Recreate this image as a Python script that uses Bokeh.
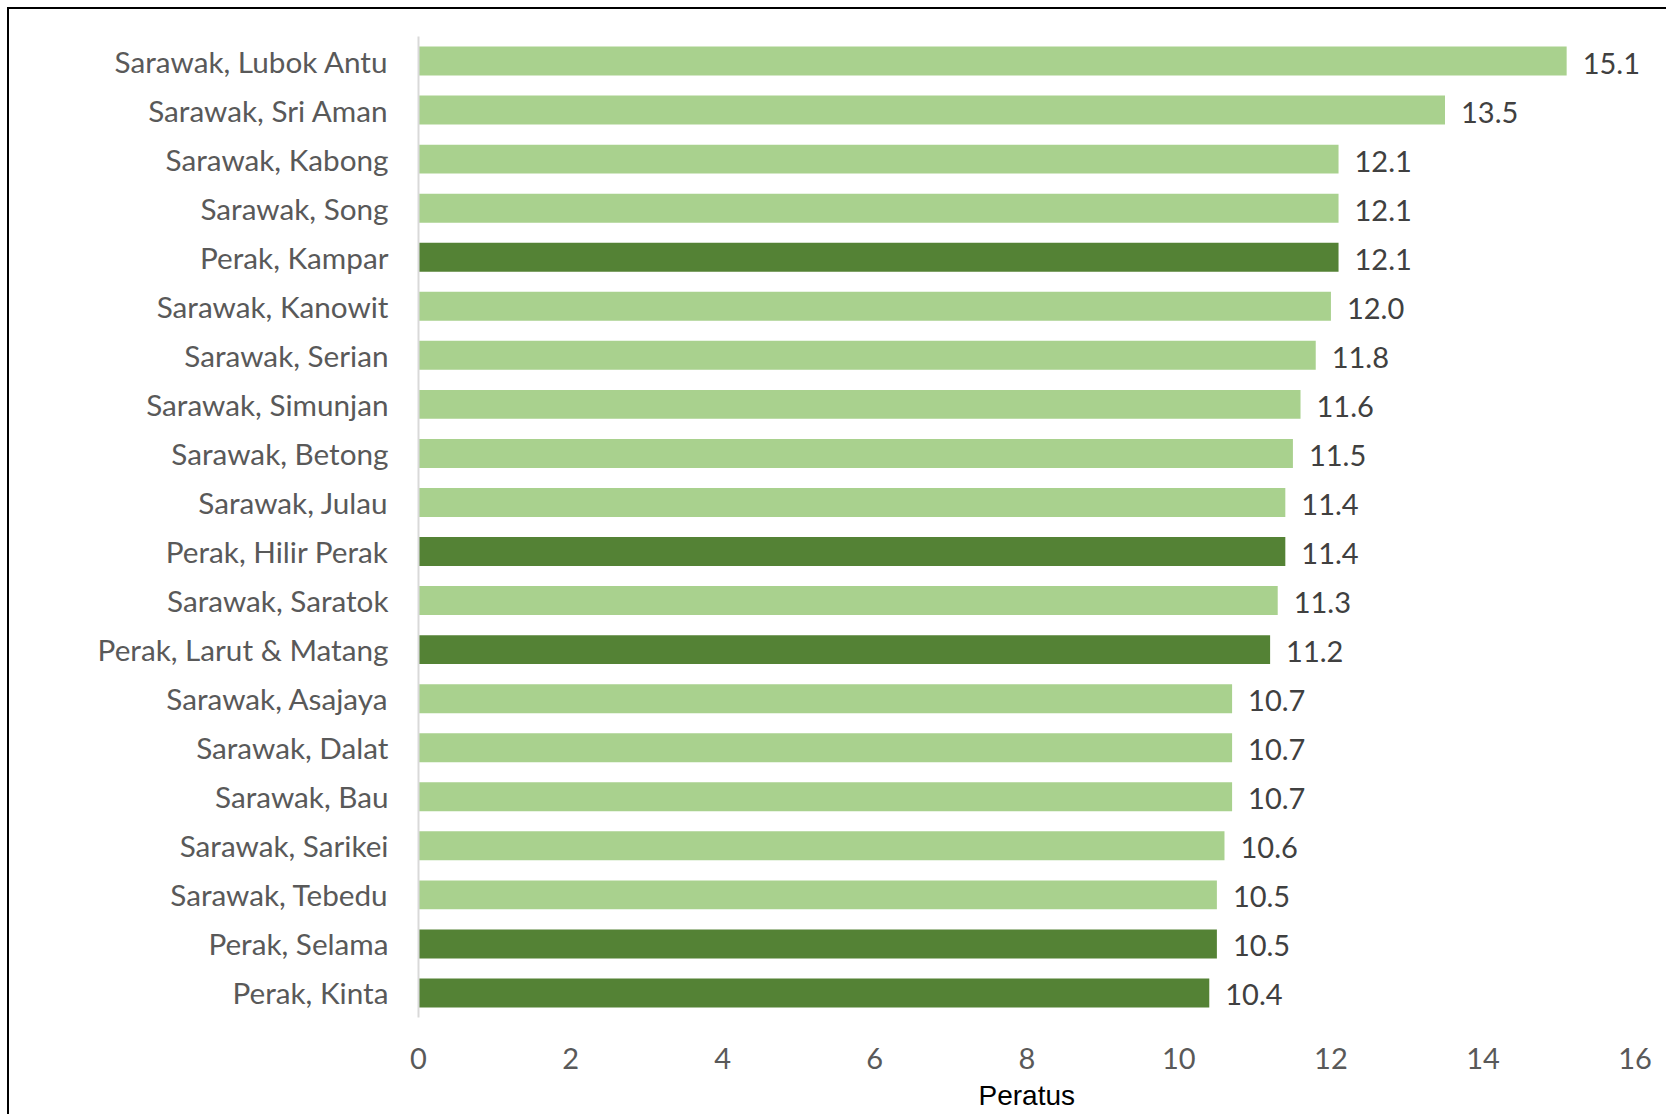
from bokeh.plotting import figure
from bokeh.models import Range1d, FixedTicker, ColumnDataSource, Title
from bokeh.core.properties import value
from bokeh.embed import file_html
from bokeh.resources import INLINE

categories = [
    "Sarawak, Lubok Antu", "Sarawak, Sri Aman", "Sarawak, Kabong", "Sarawak, Song",
    "Perak, Kampar", "Sarawak, Kanowit", "Sarawak, Serian", "Sarawak, Simunjan",
    "Sarawak, Betong", "Sarawak, Julau", "Perak, Hilir Perak", "Sarawak, Saratok",
    "Perak, Larut & Matang", "Sarawak, Asajaya", "Sarawak, Dalat", "Sarawak, Bau",
    "Sarawak, Sarikei", "Sarawak, Tebedu", "Perak, Selama", "Perak, Kinta",
]
values = [15.1, 13.5, 12.1, 12.1, 12.1, 12.0, 11.8, 11.6, 11.5, 11.4,
          11.4, 11.3, 11.2, 10.7, 10.7, 10.7, 10.6, 10.5, 10.5, 10.4]
x_ticks = [0, 2, 4, 6, 8, 10, 12, 14, 16]
x_label = "Peratus"

LIGHT = "#A9D18E"
DARK = "#548235"
colors = [DARK if c.startswith("Perak") else LIGHT for c in categories]
labels = [f"{v:.1f}" for v in values]

src = ColumnDataSource(dict(cat=categories, val=values, color=colors, lab=labels))

X_END = 16.4
W, H = 1659, 1107
FL, FT, FH = 409, 27, 981
FW = round(1217 * X_END / 16)

p = figure(width=W, height=H, y_range=categories[::-1], x_range=Range1d(0, X_END),
           output_backend="svg", toolbar_location=None,
           min_border_left=FL, min_border_right=W - FL - FW,
           min_border_top=FT, min_border_bottom=H - FT - FH)
p.styles = {"border-left": "2px solid black", "border-top": "2px solid black",
            "margin-left": "7px", "margin-top": "7px"}
p.outline_line_color = None
p.xgrid.grid_line_color = None
p.ygrid.grid_line_color = None

p.hbar(y="cat", right="val", left=0, height=0.59, color="color", line_color=None, source=src)
p.text(x="val", y="cat", text="lab", source=src, x_offset=16, y_offset=2,
       text_font=value("Lato"), text_font_size="29px", text_color="#404040",
       text_baseline="middle", text_align="left")

p.xaxis.ticker = FixedTicker(ticks=x_ticks)
p.xaxis.axis_line_color = None
p.xaxis.major_tick_line_color = None
p.xaxis.minor_tick_line_color = None
p.xaxis.major_tick_out = 0
p.xaxis.major_tick_in = 0
p.xaxis.major_label_standoff = 30
p.xaxis.major_label_text_font = "Lato"
p.xaxis.major_label_text_font_size = "29px"
p.xaxis.major_label_text_color = "#595959"

t = Title(text=x_label, align="left", offset=560, standoff=12,
          text_font="Liberation Sans", text_font_size="28px",
          text_font_style="normal", text_color="black")
p.add_layout(t, "below")

p.yaxis.axis_line_color = "#D9D9D9"
p.yaxis.axis_line_width = 2
p.yaxis.major_tick_line_color = None
p.yaxis.major_tick_out = 0
p.yaxis.major_tick_in = 0
p.yaxis.major_label_standoff = 30
p.yaxis.major_label_text_font = "Lato"
p.yaxis.major_label_text_font_size = "29.7px"
p.yaxis.major_label_text_color = "#595959"

open("out.html", "w").write(file_html(p, INLINE))
